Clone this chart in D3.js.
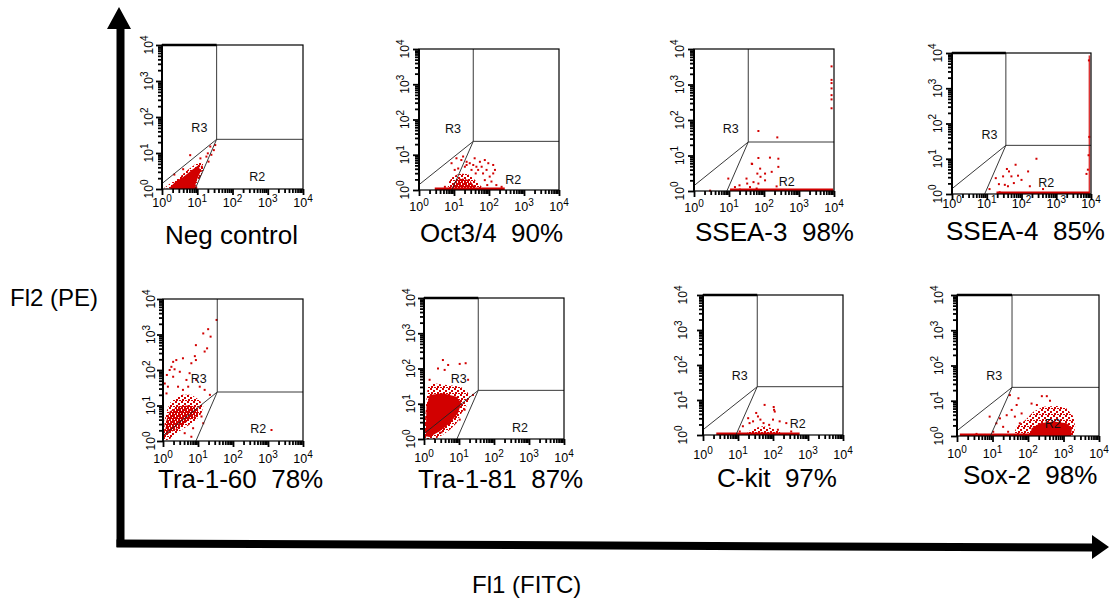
<!DOCTYPE html>
<html>
<head>
<meta charset="utf-8">
<script src="https://cdn.jsdelivr.net/npm/d3@7"></script>
<style>
body { margin: 0; background: #fff; }
svg { display: block; font-family: "Liberation Sans", Arial, sans-serif; }
</style>
</head>
<body>
<svg id="chart" width="1109" height="601"></svg>
<script>
// values are log10 of fluorescence: [FITC, PE], axes run 10^0 .. 10^4
const decades = [0, 1, 2, 3, 4];
const panelNames = ["Neg control", "Oct3/4", "SSEA-3", "SSEA-4", "Tra-1-60", "Tra-1-81", "C-kit", "Sox-2"];
const panelPercents = ["", "90%", "98%", "85%", "78%", "87%", "97%", "98%"];

// gate template (same on every plot)
const gateCorner = [1.55, 1.38];
const r3Start = 0.15;   // PE where R3 diagonal leaves the y axis
const r2Base = 0.94;    // FITC where R2 diagonal leaves the x axis
const regionLabelAt = [
  [[1.06, 1.71], [2.70, 0.34]], [[0.97, 1.74], [2.69, 0.31]],
  [[1.05, 1.75], [2.65, 0.27]], [[1.08, 1.70], [2.71, 0.33]],
  [[1.02, 1.77], [2.72, 0.34]], [[0.99, 1.72], [2.74, 0.34]],
  [[1.05, 1.71], [2.71, 0.32]], [[1.05, 1.71], [2.70, 0.36]]
];

// sparse events
const dotsNeg = [[0.80,0.94],[1.09,0.85],[1.30,0.99],[1.37,1.18],[1.51,1.22],[1.47,1.08],[1.26,0.90],
  [1.13,0.62],[1.32,0.76],[0.95,0.44],[1.10,0.50],[1.40,0.95],[0.60,0.55],[0.35,0.40],[0.88,0.05]];
const dotsOct = [[1.07,0.90],[1.21,0.85],[1.36,0.80],[1.45,0.76],[1.59,0.90],[1.74,0.80],[1.88,0.85],
  [1.98,0.76],[2.12,0.71],[2.17,0.57],[1.93,0.57],[1.83,0.47],[2.02,0.38],[1.64,0.66],[1.31,0.66],
  [1.12,0.61],[1.02,0.57],[1.50,0.57],[1.88,0.28],[2.07,0.24],[2.21,0.14],[2.36,0.09],[0.74,0.09],
  [0.64,0.02],[1.95,0.14],[1.55,0.71],[1.79,0.66],[1.62,0.47],[2.12,0.47],[0.93,0.76],[1.26,0.95],
  [1.69,0.57],[1.36,0.71]];
const dotsSsea3 = [[3.93,3.51],[3.93,3.13],[3.93,3.04],[3.93,2.89],[3.93,2.70],[3.93,2.58],[3.93,2.33],
  [1.84,1.69],[2.38,1.51],[1.84,0.93],[1.65,0.77],[1.66,0.76],[2.17,0.94],[2.41,0.91],[1.89,0.63],
  [1.81,0.49],[2.03,0.49],[2.22,0.54],[2.41,0.68],[1.50,0.35],[1.52,0.21],[1.70,0.25],[1.84,0.21],
  [2.03,0.30],[1.30,0.16],[1.17,0.11],[0.98,0.35],[1.79,0.07],[2.36,0.13],[1.31,0.04],[0.46,0.01],
  [1.90,0.40],[1.60,0.11]];
const dotsSsea4 = [[2.43,1.00],[1.83,0.83],[1.58,0.71],[1.64,0.64],[1.71,0.50],[1.90,0.52],[2.19,0.64],
  [1.26,0.45],[1.35,0.28],[1.52,0.26],[1.61,0.22],[1.78,0.31],[2.24,0.22],[2.62,0.14],[3.87,0.57],
  [3.91,0.69],[1.08,0.14],[1.37,0.05],[1.47,0.50],[2.00,0.40],[3.94,3.79],[3.95,1.62],[3.93,1.10]];
const dotsTra160 = [[1.53,3.41],[1.29,3.15],[1.15,3.03],[1.36,2.94],[0.94,2.70],[1.26,2.61],[1.19,2.52],
  [0.91,2.39],[0.57,2.33],[0.38,2.28],[0.29,2.23],[0.24,2.09],[0.19,2.00],[0.33,2.02],[0.48,1.95],
  [0.11,1.86],[0.29,1.81],[0.76,1.91],[0.67,1.72],[0.95,1.72],[0.81,2.19],[0.94,2.28],[0.05,1.62],
  [0.14,1.53],[0.43,1.53],[0.72,1.53],[1.05,1.53],[1.19,1.44],[1.34,1.30],[1.10,0.69],[1.15,0.50],
  [0.86,0.36],[0.62,0.22],[0.81,0.12],[3.10,0.31],[0.10,1.34],[0.57,1.44]];
const dotsTra181 = [[0.54,2.24],[0.40,2.00],[0.69,2.10],[1.02,2.13],[1.19,2.15],[0.59,1.96],[0.16,1.68],
  [1.26,1.68],[1.40,1.25],[1.16,0.83],[1.02,0.55],[0.50,0.19]];
const dotsCkit = [[1.76,0.86],[2.02,0.80],[2.05,0.67],[1.57,0.53],[1.64,0.44],[1.43,0.39],[1.33,0.34],
  [1.73,0.34],[1.89,0.29],[2.00,0.44],[2.19,0.39],[2.14,0.15],[2.38,0.34],[2.52,0.10],[1.14,0.25],
  [1.05,0.10],[1.52,0.63],[1.29,0.48],[2.03,0.72]];
const dotsSox = [[1.49,1.16],[1.73,1.07],[1.68,0.88],[1.54,0.74],[1.40,0.59],[1.21,0.50],[1.11,0.36],
  [0.92,0.55],[1.30,0.26],[1.44,0.12],[1.82,0.64],[2.10,0.92],[2.39,1.13],[2.53,1.13],[2.25,0.88],
  [2.62,1.00],[1.77,0.36],[1.02,0.12],[0.78,0.03],[0.55,0.06],[1.63,0.55]];

// dense event clouds (outline) and their cores
const cloudNeg = [[0.05,0.02],[0.24,0.16],[0.47,0.30],[0.66,0.48],[0.85,0.62],[1.04,0.76],[1.16,0.71],
  [1.18,0.53],[1.09,0.34],[0.99,0.16],[0.92,0.0]];
const coreNeg = [[0.24,0.06],[0.38,0.20],[0.61,0.34],[0.85,0.53],[1.04,0.67],[1.09,0.48],[0.99,0.25],[0.92,0.02],[0.24,0]];
const cloudOct = [[0.80,0],[0.86,0.24],[0.97,0.38],[1.16,0.47],[1.40,0.45],[1.55,0.33],[1.69,0.19],[1.79,0.09],[1.79,0]];
const coreOct = [[0.93,0.02],[1.02,0.24],[1.21,0.33],[1.45,0.28],[1.59,0.09],[1.64,0]];
const cloudTra160 = [[0.02,0.12],[0.05,0.59],[0.10,0.83],[0.19,1.06],[0.33,1.20],[0.53,1.30],[0.81,1.30],
  [1.05,1.15],[1.15,0.97],[1.10,0.78],[0.95,0.59],[0.67,0.40],[0.38,0.22],[0.19,0.05],[0.02,0.01]];
const coreTra160 = [[0.05,0.17],[0.10,0.59],[0.19,0.83],[0.43,0.97],[0.76,1.01],[1.00,0.92],[1.00,0.73],
  [0.76,0.59],[0.48,0.40],[0.19,0.22]];
const cloudTra181 = [[0.02,0.03],[0.03,0.55],[0.07,1.11],[0.11,1.49],[0.26,1.58],[0.64,1.53],[1.02,1.49],
  [1.21,1.39],[1.31,1.20],[1.21,0.92],[1.07,0.73],[0.93,0.45],[0.74,0.26],[0.54,0.12],[0.31,0],[0.02,0]];
const coreTra181 = [[0.05,0.08],[0.07,0.92],[0.16,1.25],[0.54,1.30],[0.93,1.20],[1.07,1.02],[0.97,0.73],
  [0.74,0.45],[0.45,0.22],[0.16,0.06]];
const cloudCkit = [[1.24,0],[1.29,0.10],[1.48,0.20],[1.71,0.25],[1.95,0.20],[2.19,0.10],[2.24,0]];
const cloudSox = [[1.58,0],[1.68,0.26],[1.92,0.45],[2.15,0.69],[2.43,0.83],[2.81,0.85],[3.09,0.78],
  [3.28,0.55],[3.33,0.26],[3.28,0]];
const coreSox = [[2.06,0],[2.10,0.22],[2.34,0.36],[2.72,0.41],[3.09,0.36],[3.24,0.22],[3.21,0]];

// events piled on the axes: [from, to] in log10 FITC along PE = 10^0, and the right-edge pile
const baseBands = [[0.3, 1.0], [0.45, 2.45], [1.03, 3.98], [1.28, 3.96], null, null, [0.38, 2.76], [0.08, 2.81]];
const edgeBands = [null, null, null, [3.96, 0, 3.93], null, null, null, null];

const panelDots = [dotsNeg, dotsOct, dotsSsea3, dotsSsea4, dotsTra160, dotsTra181, dotsCkit, dotsSox];
const panelClouds = [cloudNeg, cloudOct, null, null, cloudTra160, cloudTra181, cloudCkit, cloudSox];
const panelCores = [coreNeg, coreOct, null, null, coreTra160, coreTra181, null, coreSox];

// layout
const panelBox = [
  { x: 162, y: 45, w: 141, h: 144, thickTop: true, xLab: 18, yLab: 9 },
  { x: 419, y: 49, w: 140, h: 141, thickTop: false, xLab: 21, yLab: 10 },
  { x: 694, y: 49, w: 140, h: 142, thickTop: false, xLab: 21, yLab: 10.5 },
  { x: 952, y: 53, w: 139, h: 141, thickTop: true, xLab: 14, yLab: 10.5 },
  { x: 163, y: 299, w: 140, h: 142, thickTop: false, xLab: 22, yLab: 8 },
  { x: 424, y: 298, w: 140, h: 141, thickTop: true, xLab: 23, yLab: 9 },
  { x: 703, y: 295, w: 140, h: 140, thickTop: true, xLab: 24, yLab: 16 },
  { x: 957, y: 295, w: 142, h: 141, thickTop: true, xLab: 22, yLab: 14 }
];
const labelAt = [[165, 244], [420, 242], [695, 241], [946, 240], [158, 488], [418, 488], [717, 487], [963, 484]];
const coreSolid = [true, false, false, false, false, true, false, true];
const red = "#d20000";

const svg = d3.select("#chart");
const defs = svg.append("defs");
function speck(id, cells) {
  const p = defs.append("pattern").attr("id", id).attr("width", 6).attr("height", 6)
    .attr("patternUnits", "userSpaceOnUse");
  cells.forEach(c => p.append("rect").attr("x", c[0]).attr("y", c[1]).attr("width", 2).attr("height", 2).attr("fill", red));
}
speck("speckLight", [[0, 0], [3, 2], [1, 4], [4, 5]]);
speck("speckDense", [[0, 0], [3, 0], [1, 2], [4, 3], [0, 4], [2, 5], [5, 1]]);

const minors = [];
decades.slice(0, 4).forEach(d => { for (let k = 2; k <= 9; k++) minors.push(d + Math.log10(k)); });

function powLabel(sel, d) {
  sel.append("tspan").text("10");
  sel.append("tspan").attr("dy", -5.5).attr("font-size", 10).text(d);
}

panelBox.forEach((b, i) => {
  const g = svg.append("g").attr("transform", `translate(${b.x},${b.y})`);
  const x = d3.scaleLinear().domain([0, 4]).range([0, b.w]);
  const y = d3.scaleLinear().domain([0, 4]).range([b.h, 0]);
  const line = d3.line().x(d => x(d[0])).y(d => y(d[1]));

  // events
  if (panelClouds[i]) {
    g.append("path").attr("d", line(panelClouds[i]) + "Z").attr("fill", "url(#speckLight)");
  }
  if (panelCores[i]) {
    g.append("path").attr("d", line(panelCores[i]) + "Z")
      .attr("fill", coreSolid[i] ? red : "url(#speckDense)");
  }
  if (baseBands[i]) {
    const bb = baseBands[i];
    g.append("rect").attr("x", x(bb[0])).attr("y", b.h - 2.5)
      .attr("width", x(bb[1]) - x(bb[0])).attr("height", 2.5).attr("fill", red);
  }
  if (edgeBands[i]) {
    const eb = edgeBands[i];
    g.append("rect").attr("x", x(eb[0]) - 1).attr("y", y(eb[2]))
      .attr("width", 1.6).attr("height", y(eb[1]) - y(eb[2])).attr("fill", red).attr("opacity", 0.8);
  }
  g.selectAll("rect.ev").data(panelDots[i]).join("rect").attr("class", "ev")
    .attr("x", d => x(d[0]) - 1).attr("y", d => y(d[1]) - 1)
    .attr("width", 2).attr("height", 2).attr("fill", red);

  // gates
  const gate = [
    [[0, r3Start], gateCorner],
    [[r2Base, 0], gateCorner],
    [gateCorner, [gateCorner[0], 4]],
    [gateCorner, [4, gateCorner[1]]]
  ];
  gate.forEach(seg => {
    g.append("path").attr("d", line(seg)).attr("fill", "none")
      .attr("stroke", "#222").attr("stroke-width", 0.9);
  });
  ["R3", "R2"].forEach((t, j) => {
    const at = regionLabelAt[i][j];
    g.append("text").attr("x", x(at[0])).attr("y", y(at[1]) + 4.5)
      .attr("text-anchor", "middle").attr("font-size", 12.5).attr("fill", "#111").text(t);
  });

  // frame
  g.append("rect").attr("width", b.w).attr("height", b.h)
    .attr("fill", "none").attr("stroke", "#000").attr("stroke-width", 1.2);
  if (b.thickTop) {
    g.append("line").attr("x1", 0).attr("x2", x(gateCorner[0])).attr("y1", 0).attr("y2", 0)
      .attr("stroke", "#000").attr("stroke-width", 2.4);
  }
  g.append("line").attr("x1", 0).attr("x2", 0).attr("y1", 0).attr("y2", b.h)
    .attr("stroke", "#000").attr("stroke-width", 2);

  // axes
  const tickStyle = a => {
    a.select(".domain").remove();
    a.selectAll("line").attr("stroke", "#000").attr("stroke-width", 1.8);
  };
  g.append("g").attr("transform", `translate(0,${b.h})`)
    .call(d3.axisBottom(x).tickValues(minors).tickSize(4).tickFormat("")).call(tickStyle);
  g.append("g").attr("transform", `translate(0,${b.h})`)
    .call(d3.axisBottom(x).tickValues(decades).tickSize(6).tickFormat("")).call(tickStyle);
  g.append("g").call(d3.axisLeft(y).tickValues(minors).tickSize(4).tickFormat("")).call(tickStyle);
  g.append("g").call(d3.axisLeft(y).tickValues(decades).tickSize(6).tickFormat("")).call(tickStyle);

  decades.forEach(d => {
    g.append("text").attr("x", x(d)).attr("y", b.h + b.xLab).attr("text-anchor", "middle")
      .attr("font-size", 12.5).call(powLabel, d);
    g.append("text").attr("transform", `translate(${-b.yLab},${y(d)}) rotate(-90)`).attr("text-anchor", "middle")
      .attr("font-size", 12).call(powLabel, d);
  });

  const lab = panelPercents[i] ? panelNames[i] + "\u00a0\u00a0" + panelPercents[i] : panelNames[i];
  svg.append("text").attr("x", labelAt[i][0]).attr("y", labelAt[i][1])
    .attr("font-size", 26).attr("fill", "#000").text(lab);
});

// big axes
svg.append("path").attr("d", "M116.5,547 L124.5,547 L124.5,29 L131,29 L119,7 L107,29 L116.5,29 Z").attr("fill", "#000");
svg.append("path").attr("d", "M116.5,539.5 L1092,543.5 L1092,535 L1109,547 L1092,559 L1092,551.5 L116.5,547.5 Z").attr("fill", "#000");

svg.append("text").attr("x", 10).attr("y", 306).attr("font-size", 24).text("Fl2 (PE)");
svg.append("text").attr("x", 472).attr("y", 593).attr("font-size", 24).text("Fl1 (FITC)");
</script>
</body>
</html>
